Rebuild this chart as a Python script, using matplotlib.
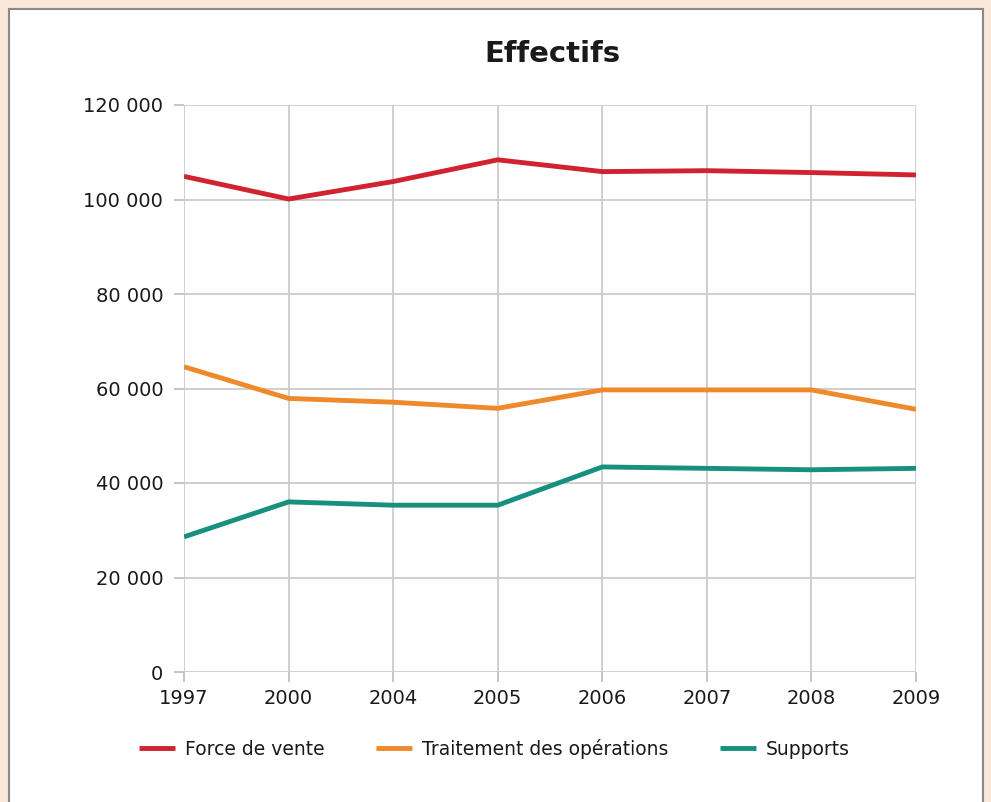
import matplotlib.pyplot as plt
from matplotlib.patches import Rectangle

plt.rcParams['font.family'] = ['DejaVu Sans']

years = ['1997', '2000', '2004', '2005', '2006', '2007', '2008', '2009']
force_vente = [104900, 100100, 103800, 108400, 105900, 106100, 105700, 105200]
traitement = [64600, 57900, 57100, 55800, 59700, 59700, 59700, 55600]
supports = [28600, 36000, 35300, 35300, 43400, 43100, 42800, 43100]
series_names = ['Force de vente', 'Traitement des opérations', 'Supports']
colors = ['#d0222f', '#ee8a2c', '#17907d']

fig = plt.figure(figsize=(9.91, 8.02), dpi=100)
fig.patch.set_facecolor('#fbe8da')
# white inner panel
fig.patches.append(Rectangle((9 / 991, -0.01), 974 / 991, 1.01 - 9 / 802,
                             transform=fig.transFigure, facecolor='white',
                             edgecolor='#8a8a8a', linewidth=1.5, zorder=-1))

ax = fig.add_axes([184 / 991, 1 - 672 / 802, 732 / 991, 567 / 802])
ax.set_zorder(2)
x = list(range(len(years)))
for vals, name, c in zip([force_vente, traitement, supports], series_names, colors):
    ax.plot(x, vals, color=c, linewidth=3.5, label=name, solid_capstyle='butt', zorder=3)

ax.set_xlim(0, len(years) - 1)
ax.set_ylim(0, 120000)
ax.set_xticks(x)
ax.set_xticklabels(years)
yt = list(range(0, 120001, 20000))
ax.set_yticks(yt)
ax.set_yticklabels([f'{v:,}'.replace(',', ' ') for v in yt])
ax.grid(True, color='#cccccc', linewidth=1.3)
for s in ax.spines.values():
    s.set_visible(False)
ax.tick_params(axis='both', colors='#bbbbbb', labelcolor='#1a1a1a', labelsize=14,
               length=7, width=1.2)
ax.tick_params(axis='x', pad=5)
ax.tick_params(axis='y', pad=8)
ax.set_facecolor('white')

fig.text(552 / 991, 1 - 54 / 802, 'Effectifs', ha='center', va='center',
         fontsize=21, fontweight='bold', color='#1a1a1a', zorder=3)

leg = fig.legend(loc='center left', bbox_to_anchor=(122 / 991, 1 - 749 / 802), ncol=3,
                 frameon=False, fontsize=13.5, handlelength=1.9, handletextpad=0.55,
                 columnspacing=2.75)
leg.set_zorder(3)
for t in leg.get_texts():
    t.set_color('#1a1a1a')

fig.savefig('out.png', dpi=100, facecolor=fig.get_facecolor())
